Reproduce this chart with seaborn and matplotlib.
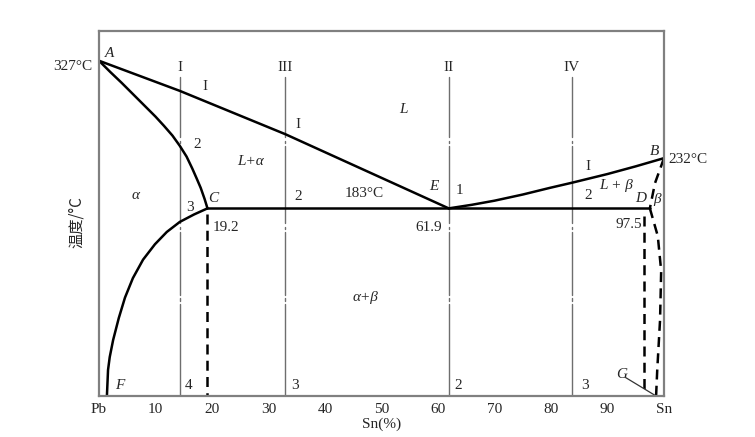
import matplotlib
matplotlib.use("Agg")
import matplotlib.pyplot as plt
import seaborn as sns

# Pb-Sn phase diagram
# liquidus A-E and E-B (Sn %, temperature C)
liq_ae_x = [0, 14.3, 33.0, 61.9]
liq_ae_t = [327, 297.6, 255.3, 183]
liq_eb_x = [61.9, 66, 70, 75, 79.8, 83.7, 90, 95, 100]
liq_eb_t = [183, 186.5, 190.5, 196.5, 203, 208, 216.5, 224, 232]
# solidus A-C
sol_ac_x = [0, 2, 4, 6, 8, 10, 11.5, 13, 14.3, 15.5, 16.5, 17.3, 18, 18.7, 19.2]
sol_ac_t = [327, 316, 305.5, 294.5, 283.5, 272.5, 263.5, 254, 244, 233.5, 222, 212, 203, 192, 183]
# solvus C-F
solv_cf_x = [19.2, 16.8, 14.3, 12, 9.9, 7.8, 6, 4.6, 3.5, 2.5, 1.9, 1.6, 1.4]
solv_cf_t = [183, 177, 169.8, 160, 148, 133, 115, 96, 76, 54.6, 38, 25.4, 0]
# eutectic line C-D
eut_x = [19.2, 97.5]
eut_t = [183, 183]
# beta side (dashed): solidus B-D and solvus D-G
sol_bd_x = [100, 98.4, 97.5]
sol_bd_t = [232, 207.5, 183]
solv_dg_x = [97.5, 98.9, 99.5, 99.3, 98.8, 98.6]
solv_dg_t = [183, 156, 122, 74, 25, 0]
# dashed drop lines under C and D
drop_x = [19.2, 96.5]
drop_top = [178, 176]

# alloys I, III, II, IV
alloy_x = [14.3, 33.0, 61.9, 83.7]
alloy_names = ["I", "III", "II", "IV"]
alloy_top = 311
alloy_breaks = [248, 164, 94]

xtick_pos = [0, 10, 20, 30, 40, 50, 60, 70, 80, 90, 100]
xtick_lab = ["Pb", "10", "20", "30", "40", "50", "60", "70", "80", "90", "Sn"]

sns.set_theme(style="white")
plt.rcParams["font.family"] = ["Liberation Serif", "DejaVu Serif"]

fig = plt.figure(figsize=(7.55, 4.37), dpi=100)
ax = fig.add_axes([99 / 755, 41 / 437, 565 / 755, 365 / 437])
ax.set_xlim(0, 100)
ax.set_ylim(0, 356)

gray = "#6e6e6e"

# alloy composition lines with dash-dot breaks
for xa in alloy_x:
    pts = [alloy_top]
    for b in alloy_breaks:
        pts += [b + 4.5, b + 1.2, b - 1.2, b - 4.5]
    pts.append(0)
    for i in range(0, len(pts), 2):
        sns.lineplot(x=[xa, xa], y=[pts[i], pts[i + 1]], color=gray, lw=1.0,
                     ax=ax, estimator=None, sort=False)

black = dict(color="black", lw=1.8, estimator=None, sort=False, ax=ax)
sns.lineplot(x=liq_ae_x, y=liq_ae_t, **black)
sns.lineplot(x=liq_eb_x, y=liq_eb_t, **black)
sns.lineplot(x=sol_ac_x, y=sol_ac_t, **black)
sns.lineplot(x=solv_cf_x, y=solv_cf_t, **black)
sns.lineplot(x=eut_x, y=eut_t, **black)

dashed = dict(color="black", lw=1.8, estimator=None, sort=False, ax=ax,
              linestyle=(0, (4, 2.5)))
sns.lineplot(x=sol_bd_x, y=sol_bd_t, **dashed)
sns.lineplot(x=solv_dg_x, y=solv_dg_t, **dashed)
for xd, td in zip(drop_x, drop_top):
    sns.lineplot(x=[xd, xd], y=[td, 0], **dashed)

# G leader line
ax.plot([93.2, 98.6], [18, 0], color="#333333", lw=0.9)

fs = 11
# roman numerals above alloy lines
for xa, nm in zip(alloy_x, alloy_names):
    ax.text(xa, 320, nm, ha="center", va="center", fontsize=fs)

# stage numbers
stage_txt = [
    (18.8, 302, "I"), (35.3, 265, "I"), (63.8, 200, "1"), (86.6, 224, "I"),
    (17.4, 245, "2"), (35.3, 194.5, "2"), (86.6, 196, "2"), (16.1, 183.5, "3"),
    (15.8, 10.7, "4"), (34.7, 10, "3"), (63.6, 10.7, "2"), (86.0, 10.7, "3"),
]
for x, t, s in stage_txt:
    ax.text(x, t, s, ha="center", va="center", fontsize=fs)

# points and phases (italic)
ital = [
    (1.9, 334.5, "A"), (20.2, 193, "C"), (59.3, 204, "E"), (95.8, 193, "D"),
    (98.4, 238.5, "B"), (3.7, 9.8, "F"), (92.5, 20.5, "G"),
    (53.9, 279, "L"), (26.8, 228.6, "L+α"), (6.4, 196, "α"),
    (91.5, 205, "L + β"), (98.8, 191.5, "β"), (47.1, 95.6, "α+β"),
]
for x, t, s in ital:
    ax.text(x, t, s, ha="center", va="center", fontsize=fs, style="italic")

# temperatures and compositions
ax.text(-1.2, 321.3, "327°C", ha="right", va="center", fontsize=fs)
ax.text(100.8, 230.2, "232°C", ha="left", va="center", fontsize=fs)
ax.text(46.9, 197.7, "183°C", ha="center", va="center", fontsize=fs)
ax.text(20.2, 164, "19.2", ha="left", va="center", fontsize=fs)
ax.text(58.4, 164, "61.9", ha="center", va="center", fontsize=fs)
ax.text(93.7, 167, "97.5", ha="center", va="center", fontsize=fs)

ax.set_xticks(xtick_pos)
ax.set_xticklabels(xtick_lab, fontsize=fs)
ax.set_yticks([])
ax.tick_params(axis="x", direction="in", length=4, width=0.9, color=gray, pad=5)
for t in ax.xaxis.get_major_ticks():
    if t.get_loc() in (0, 100):
        t.tick1line.set_visible(False)

ax.set_xlabel("Sn(%)", fontsize=fs, labelpad=1)
ax.set_ylabel("温度/°C", fontsize=fs, family=["Noto Sans CJK SC", "DejaVu Sans"])
ax.yaxis.set_label_coords(-0.025, 0.477)

for sp in ax.spines.values():
    sp.set_color("#808080")
    sp.set_linewidth(1.6)
    sp.set_visible(True)

fig.savefig("out.png", dpi=100)
